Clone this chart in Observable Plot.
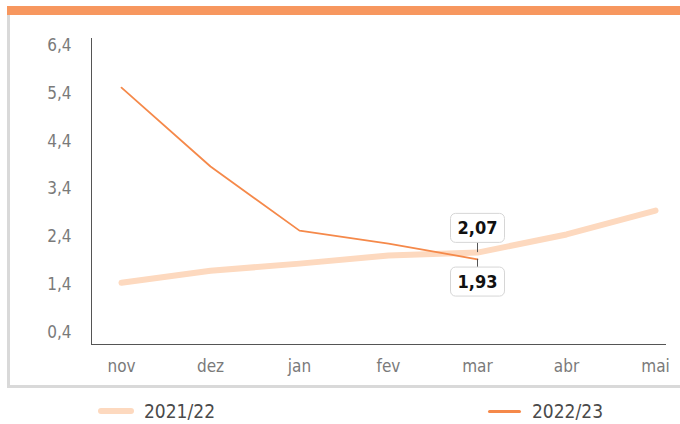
<!DOCTYPE html>
<html>
<head>
<meta charset="utf-8">
<script src="https://cdn.jsdelivr.net/npm/d3@7"></script>
<script src="https://cdn.jsdelivr.net/npm/@observablehq/plot@0.6"></script>
<style>
  html, body { margin: 0; padding: 0; background: #fff; }
  body { width: 680px; height: 424px; position: relative; overflow: hidden; font-family: "DejaVu Sans Condensed", "Liberation Sans Narrow", sans-serif; }
  #topbar { position: absolute; left: 7px; top: 6px; width: 673px; height: 9px; background: #F7975F; }
  #frameL { position: absolute; left: 7px; top: 15px; width: 3px; height: 373px; background: #d9d9d9; }
  #frameB { position: absolute; left: 7px; top: 385px; width: 673px; height: 3px; background: #d9d9d9; }
  #chart { position: absolute; left: 0; top: 0; }
  .leg { position: absolute; top: 400px; font-size: 19px; color: #4a4a4a; display: flex; align-items: center; }
  .sw { display: inline-block; width: 36px; margin-right: 10px; border-radius: 3px; }
</style>
</head>
<body>
<div id="topbar"></div>
<div id="frameL"></div>
<div id="frameB"></div>
<div id="chart"></div>
<div class="leg" style="left:98px"><span class="sw" style="height:6px;background:#FDD9BF"></span>2021/22</div>
<div class="leg" style="left:488px"><span class="sw" style="height:3px;width:33px;margin-right:11px;background:#F5894A"></span>2022/23</div>
<script>
const months = ["nov", "dez", "jan", "fev", "mar", "abr", "mai"];
const series2122 = [1.44, 1.69, 1.84, 2.01, 2.07, 2.45, 2.95];
const series2223 = [5.52, 3.87, 2.53, 2.26, 1.93];
const yTicks = [0.4, 1.4, 2.4, 3.4, 4.4, 5.4, 6.4];
const labelMonth = "mar";

const fmt = v => String(v).replace(".", ",");
const d1 = months.map((m, i) => ({month: m, v: series2122[i]}));
const d2 = series2223.map((v, i) => ({month: months[i], v}));
const idx = months.indexOf(labelMonth);
const labA = [{month: labelMonth, v: series2122[idx]}];
const labB = [{month: labelMonth, v: series2223[idx]}];

const chart = Plot.plot({
  width: 680,
  height: 388,
  marginTop: 38,
  marginBottom: 44,
  marginLeft: 91,
  marginRight: 15,
  style: {fontFamily: '"DejaVu Sans Condensed", "Liberation Sans Narrow", sans-serif', background: "transparent"},
  x: {type: "point", domain: months, insetLeft: 27, insetRight: 8, padding: 0},
  y: {domain: [0.4, 6.4], insetTop: 7, insetBottom: 12},
  marks: [
    Plot.axisY({ticks: yTicks, tickFormat: fmt, tickSize: 0, tickPadding: 20, fontSize: 17, color: "#7a7a7a", label: null}),
    Plot.axisX({tickSize: 0, tickPadding: 15, fontSize: 17, color: "#7a7a7a", label: null}),
    Plot.frame({anchor: "left", stroke: "#555", strokeOpacity: 1}),
    Plot.frame({anchor: "bottom", stroke: "#555", strokeOpacity: 1}),
    Plot.line(d1, {x: "month", y: "v", stroke: "#FDD9BF", strokeWidth: 6, strokeLinecap: "round"}),
    Plot.line(d2, {x: "month", y: "v", stroke: "#F5894A", strokeWidth: 1.8}),
    Plot.ruleX(labA, {x: "month", y1: "v", y2: "v", insetTop: -12, stroke: "#555", strokeWidth: 1}),
    Plot.ruleX(labB, {x: "month", y1: "v", y2: "v", insetBottom: -10, stroke: "#555", strokeWidth: 1}),
    Plot.text(labA, {x: "month", y: "v", text: d => fmt(d.v), dy: -24, fontSize: 18, fontWeight: "bold", fill: "#111", className: "boxlab"}),
    Plot.text(labB, {x: "month", y: "v", text: d => fmt(d.v), dy: 23, fontSize: 18, fontWeight: "bold", fill: "#111", className: "boxlab"})
  ]
});
document.getElementById("chart").appendChild(chart);

// rounded boxes behind the value labels
chart.querySelectorAll("g.boxlab text").forEach(t => {
  const b = t.getBBox();
  const ns = "http://www.w3.org/2000/svg";
  const r = document.createElementNS(ns, "rect");
  const padX = 7, padY = 4;
  r.setAttribute("x", b.x - padX);
  r.setAttribute("y", b.y - padY);
  r.setAttribute("width", b.width + 2 * padX);
  r.setAttribute("height", b.height + 2 * padY);
  r.setAttribute("rx", 5);
  r.setAttribute("fill", "#fff");
  r.setAttribute("stroke", "#d6d6d6");
  r.setAttribute("stroke-width", 1);
  const tr = t.getAttribute("transform");
  if (tr) r.setAttribute("transform", tr);
  t.parentNode.insertBefore(r, t);
});
</script>
</body>
</html>
